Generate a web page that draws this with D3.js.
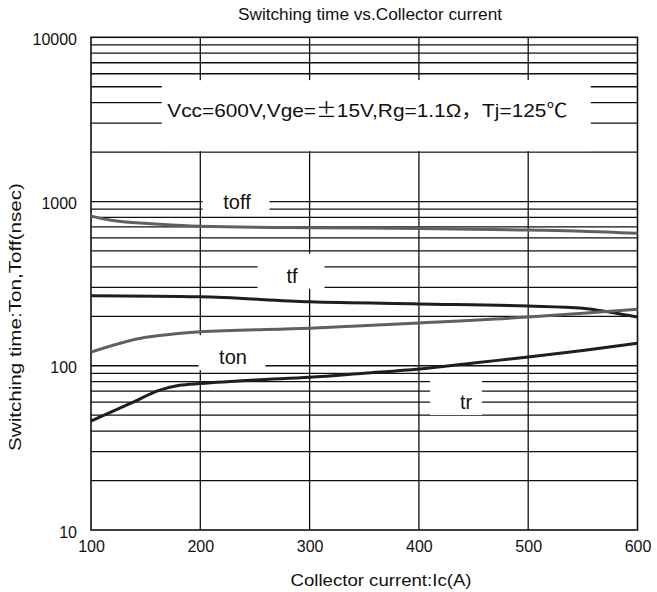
<!DOCTYPE html>
<html>
<head>
<meta charset="utf-8">
<script src="https://cdn.jsdelivr.net/npm/d3@7"></script>
<style>
body { margin: 0; background: #fff; }
text { font-family: "Liberation Sans", Arial, sans-serif; fill: #111; }
.cjk { font-family: "Noto Sans CJK SC", "Liberation Sans", sans-serif; }
</style>
</head>
<body>
<svg id="chart" width="657" height="592"></svg>
<script>
// values
const toffIc = [100, 117, 163, 200, 300, 400, 500, 550, 600];
const toffVal = [815, 771, 728, 708, 692, 686, 670, 660, 640];
const tfIc = [100, 200, 300, 400, 500, 550, 575, 600];
const tfVal = [267, 263, 245, 238, 231, 224, 212, 198];
const tonIc = [100, 150, 175, 200, 300, 400, 500, 550, 600];
const tonVal = [121, 149, 156, 161, 169, 182, 198, 209, 221];
const trIc = [100, 136, 163, 181, 200, 250, 300, 350, 400, 450, 500, 550, 600];
const trVal = [46, 59, 71, 76, 78, 82, 85, 90, 95.5, 104, 113, 124, 137];

const xTicks = [100, 200, 300, 400, 500, 600];
const yTicks = [10, 100, 1000, 10000];

// curve labels, anchored in data units
const labelText = ["toff", "tf", "ton", "tr"];
const labelIc = [232.7, 283, 229, 434];
const labelVal = [1064, 379, 121, 64.5];
const condText = ["Vcc=600V,Vge=", "±", "15V,Rg=1.1Ω", "，", "Tj=125", "℃"];
const condIc = 361, condVal = 3334;

const svg = d3.select("#chart");
const margin = { left: 91, right: 19.5, top: 37.3, bottom: 62 };
const W = 657 - margin.left - margin.right;
const H = 592 - margin.top - margin.bottom;

const x = d3.scaleLinear().domain([100, 600]).range([0, W]);
const y = d3.scaleLog().domain([10, 10000]).range([H, 0]);

const g = svg.append("g").attr("transform", `translate(${margin.left},${margin.top})`);

svg.append("text")
  .attr("x", 370).attr("y", 20)
  .attr("text-anchor", "middle")
  .attr("textLength", 264).attr("lengthAdjust", "spacingAndGlyphs")
  .style("font-size", "16px")
  .text("Switching time vs.Collector current");

// grid
const gridY = y.ticks().filter(v => v > 10 && v < 10000);
g.append("g").selectAll("line").data(gridY).join("line")
  .attr("x1", 0).attr("x2", W)
  .attr("y1", d => y(d)).attr("y2", d => y(d))
  .attr("stroke", "#111").attr("stroke-width", 1.3);
g.append("g").selectAll("line").data(xTicks.slice(1, -1)).join("line")
  .attr("x1", d => x(d)).attr("x2", d => x(d))
  .attr("y1", 0).attr("y2", H)
  .attr("stroke", "#111").attr("stroke-width", 1.3);

// white label boxes over the grid
const cx = x(condIc), cy = y(condVal);
g.append("rect")
  .attr("x", cx - 214.5).attr("y", cy - 35.5)
  .attr("width", 429).attr("height", 71)
  .attr("fill", "#fff");
const cond = g.append("text")
  .attr("x", cx - 209).attr("y", cy + 1)
  .attr("textLength", 400).attr("lengthAdjust", "spacingAndGlyphs")
  .style("font-size", "19px");
condText.forEach((t, i) => {
  cond.append("tspan").attr("class", i % 2 ? "cjk" : null).text(t);
});

labelText.forEach((t, i) => {
  const lx = x(labelIc[i]), ly = y(labelVal[i]);
  const bw = t === "tr" ? 52 : 67;
  g.append("rect")
    .attr("x", lx - bw / 2).attr("y", ly - 17)
    .attr("width", bw).attr("height", 35)
    .attr("fill", "#fff");
  g.append("text")
    .attr("x", t === "tr" ? lx + 10 : lx + 1).attr("y", ly + 12)
    .attr("text-anchor", "middle")
    .style("font-size", "20px")
    .text(t);
});

// frame
g.append("rect")
  .attr("width", W).attr("height", H)
  .attr("fill", "none").attr("stroke", "#111").attr("stroke-width", 1.6);

// curves
const line = d3.line().x(d => x(d[0])).y(d => y(d[1])).curve(d3.curveMonotoneX);
const series = [
  [d3.zip(toffIc, toffVal), "#606060"],
  [d3.zip(tfIc, tfVal), "#1e1e1e"],
  [d3.zip(tonIc, tonVal), "#606060"],
  [d3.zip(trIc, trVal), "#1e1e1e"]
];
series.forEach(([pts, col]) => {
  g.append("path")
    .attr("d", line(pts))
    .attr("fill", "none")
    .attr("stroke", col)
    .attr("stroke-width", 3);
});

// axes (labels only)
const xAxis = g.append("g").attr("transform", `translate(0,${H})`)
  .call(d3.axisBottom(x).tickValues(xTicks).tickSize(0).tickPadding(11).tickFormat(d3.format("d")));
const yAxis = g.append("g")
  .call(d3.axisLeft(y).tickValues(yTicks).tickSize(0).tickPadding(14).tickFormat(d3.format("d")));
[xAxis, yAxis].forEach(a => {
  a.select(".domain").remove();
  a.selectAll("text").style("font-size", "16px").style("font-family", "Liberation Sans, Arial, sans-serif").attr("fill", "#111");
});
yAxis.selectAll("text").attr("dy", "0.45em");

svg.append("text")
  .attr("x", 381).attr("y", 586)
  .attr("text-anchor", "middle")
  .attr("textLength", 181).attr("lengthAdjust", "spacingAndGlyphs")
  .style("font-size", "16px")
  .text("Collector current:Ic(A)");

svg.append("text")
  .attr("transform", "translate(21,317) rotate(-90)")
  .attr("text-anchor", "middle")
  .attr("textLength", 268).attr("lengthAdjust", "spacingAndGlyphs")
  .style("font-size", "16px")
  .text("Switching time:Ton,Toff(nsec)");
</script>
</body>
</html>
